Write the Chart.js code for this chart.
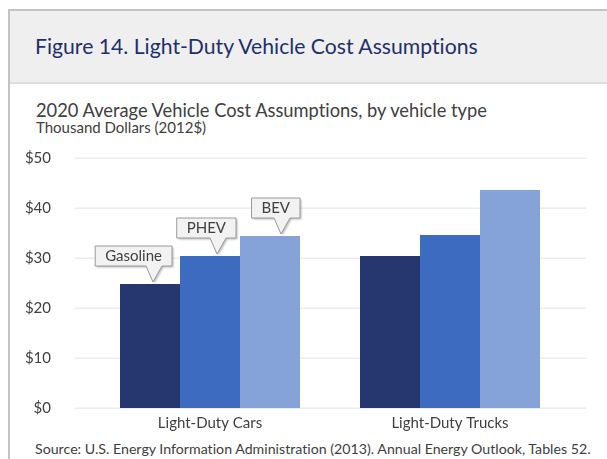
<!DOCTYPE html>
<html>
<head>
<meta charset="utf-8">
<script src="https://cdn.jsdelivr.net/npm/chart.js@4/dist/chart.umd.min.js"></script>
<style>
  html, body { margin: 0; padding: 0; background: #ffffff; }
  body { width: 607px; height: 459px; position: relative; overflow: hidden; font-family: Lato, "Open Sans", sans-serif; font-variant-ligatures: none; }
  #frame { position: absolute; left: 8px; top: 9px; width: 640px; height: 480px; border-left: 2px solid #c3c3c3; border-top: 2px solid #c3c3c3; }
  #banner { position: absolute; left: 10px; top: 11px; width: 597px; height: 71px; background: #efefef; border-bottom: 2px solid #dedede; }
  .txt { position: absolute; white-space: nowrap; }
  #title { left: 35px; top: 34px; font-size: 21.2px; line-height: 25px; color: #1f2f6b; }
  #subtitle { left: 36px; top: 99px; font-size: 18.3px; line-height: 22px; color: #404040; }
  #units { left: 36px; top: 118px; font-size: 15px; line-height: 18px; color: #404040; }
  #source { left: 35px; top: 440px; font-size: 14.2px; line-height: 17px; color: #404040; }
  #wrap { position: absolute; left: 0; top: 0; width: 607px; height: 459px; }
</style>
</head>
<body>
<div id="frame"></div>
<div id="banner"></div>
<div class="txt" id="title">Figure 14. Light-Duty Vehicle Cost Assumptions</div>
<div class="txt" id="subtitle">2020 Average Vehicle Cost Assumptions, by vehicle type</div>
<div class="txt" id="units">Thousand Dollars (2012$)</div>
<div class="txt" id="source">Source: U.S. Energy Information Administration (2013). Annual Energy Outlook, Tables 52.</div>
<div id="wrap"><canvas id="c" width="607" height="459"></canvas></div>
<script>
const categories = ['Light-Duty Cars', 'Light-Duty Trucks'];
const seriesNames = ['Gasoline', 'PHEV', 'BEV'];
const gasoline = [24.8, 30.4];
const phev = [30.4, 34.6];
const bev = [34.4, 43.6];
const yTicks = [0, 10, 20, 30, 40, 50];
const colors = ['#26376f', '#3d6bc0', '#85a3d9'];

const gridPlugin = {
  id: 'extGrid',
  beforeDatasetsDraw(chart) {
    const y = chart.scales.y, ctx = chart.ctx;
    ctx.save();
    ctx.strokeStyle = '#ececec';
    ctx.lineWidth = 1.5;
    yTicks.forEach(v => {
      const py = Math.round(y.getPixelForValue(v)) + 0.25;
      ctx.beginPath();
      ctx.moveTo(chart.chartArea.left - 15, py);
      ctx.lineTo(chart.chartArea.right + 16, py);
      ctx.stroke();
    });
    ctx.restore();
  }
};

const calloutPlugin = {
  id: 'callouts',
  afterDatasetsDraw(chart) {
    const ctx = chart.ctx;
    const rightOffsets = [22, 26, 30];
    ctx.save();
    ctx.font = '15px Lato, sans-serif';
    seriesNames.forEach((name, i) => {
      const bar = chart.getDatasetMeta(i).data[0];
      const tw = ctx.measureText(name).width;
      const w = tw + 20, h = 20;
      const right = bar.x + rightOffsets[i];
      const left = right - w;
      const bottom = bar.y - 18;
      const top = bottom - h;
      const tipX = right - 19, tipY = bar.y - 2;
      const bR = right - 10, bL = right - 26;
      ctx.beginPath();
      ctx.moveTo(left, top);
      ctx.lineTo(right, top);
      ctx.lineTo(right, bottom);
      ctx.lineTo(bR, bottom);
      ctx.lineTo(tipX, tipY);
      ctx.lineTo(bL, bottom);
      ctx.lineTo(left, bottom);
      ctx.closePath();
      ctx.shadowColor = 'rgba(0,0,0,0.25)';
      ctx.shadowOffsetX = 1.5;
      ctx.shadowOffsetY = 1.5;
      ctx.shadowBlur = 2;
      ctx.fillStyle = '#f2f2f2';
      ctx.fill();
      ctx.shadowColor = 'transparent';
      ctx.strokeStyle = '#9a9a9a';
      ctx.lineWidth = 1;
      ctx.stroke();
      ctx.fillStyle = '#404040';
      ctx.textAlign = 'center';
      ctx.textBaseline = 'middle';
      ctx.fillText(name, (left + right) / 2, (top + bottom) / 2 + 0.5);
    });
    ctx.restore();
  }
};

new Chart(document.getElementById('c'), {
  type: 'bar',
  data: {
    labels: categories,
    datasets: [
      { label: seriesNames[0], data: gasoline, backgroundColor: colors[0] },
      { label: seriesNames[1], data: phev, backgroundColor: colors[1] },
      { label: seriesNames[2], data: bev, backgroundColor: colors[2] }
    ]
  },
  options: {
    responsive: false,
    animation: false,
    devicePixelRatio: 1,
    layout: { padding: { left: 0, right: 37, top: 158, bottom: 0 } },
    categoryPercentage: 0.75,
    barPercentage: 1.0,
    plugins: { legend: { display: false }, tooltip: { enabled: false } },
    scales: {
      x: {
        grid: { display: false },
        border: { display: false },
        ticks: { color: '#404040', font: { family: 'Lato', size: 15 }, padding: -2 },
        afterFit(s) { s.height = 51; }
      },
      y: {
        min: 0, max: 50,
        grid: { display: false },
        border: { display: false },
        afterBuildTicks(s) { s.ticks = yTicks.map(v => ({ value: v })); },
        ticks: { color: '#404040', font: { family: 'Lato', size: 15 }, padding: 31, callback: v => '$' + v },
        afterFit(s) { s.width = 90; }
      }
    }
  },
  plugins: [gridPlugin, calloutPlugin]
});
</script>
</body>
</html>
